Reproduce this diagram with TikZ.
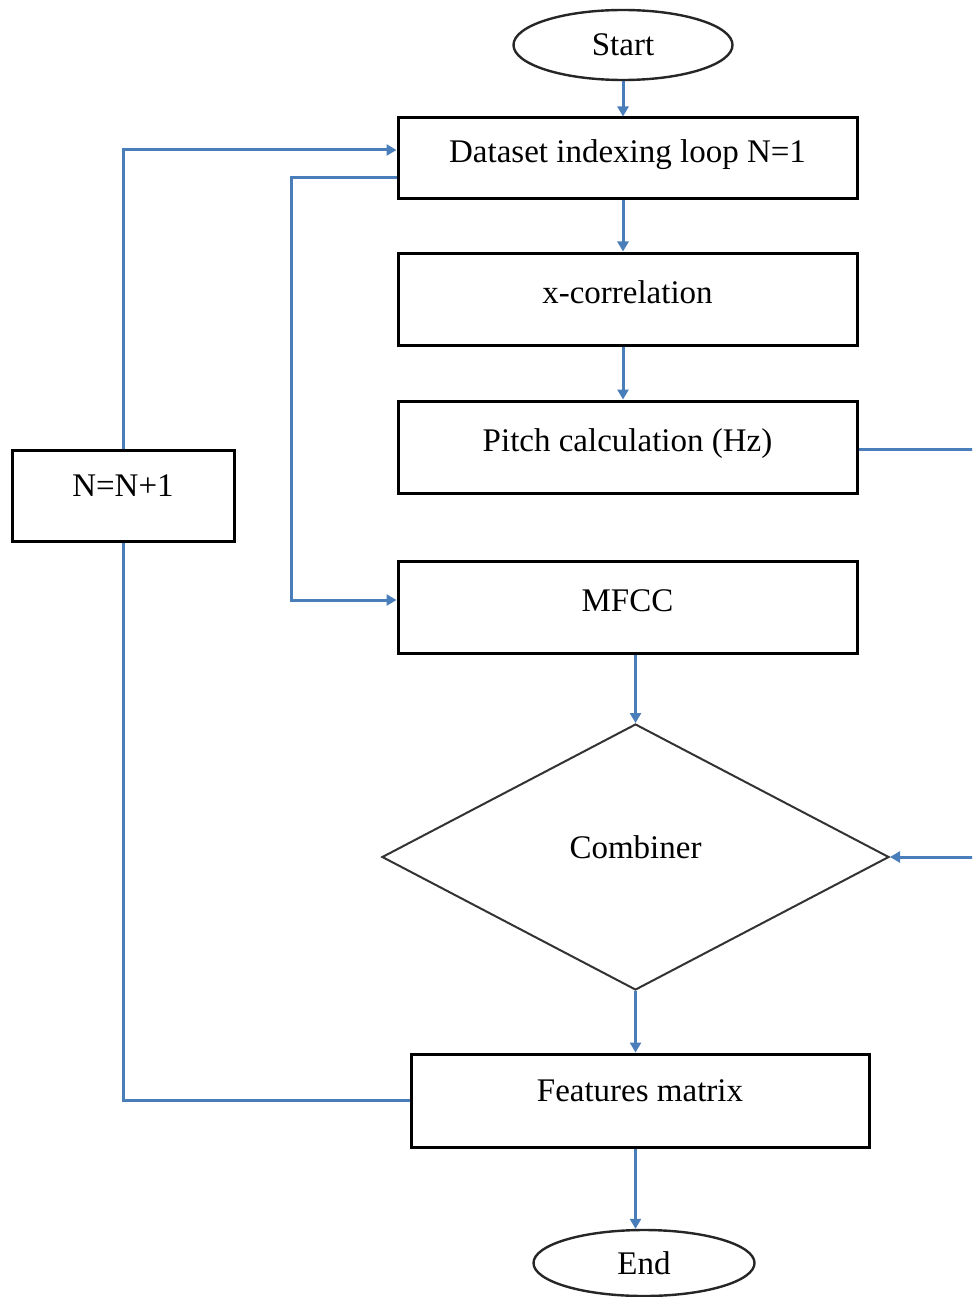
\documentclass[tikz,border=0pt]{standalone}
\usepackage{fontspec}
\setmainfont{Liberation Serif}
\usetikzlibrary{shapes.geometric,arrows.meta}
\definecolor{lnblue}{HTML}{4A7EBB}
\begin{document}
\begin{tikzpicture}[x=1pt,y=-1pt,
  font=\fontsize{33}{36}\selectfont,
  box/.style={draw=black,line width=3pt,rectangle,inner sep=0pt,text height=22pt,text depth=14pt},
  boxlow/.style={box,text depth=20pt},
  oval/.style={draw=black!85,line width=2.4pt,ellipse,inner sep=0pt},
  decide/.style={draw=black!80,line width=2pt,diamond,inner sep=0pt,text height=22pt,text depth=20pt},
  conn/.style={draw=lnblue,line width=3pt},
  arr/.style={conn,-{Triangle[length=10pt,width=11pt]}}]
\clip (0,0) rectangle (972,1297);
\fill[white] (0,0) rectangle (972,1297);

\node[oval,minimum width=219pt,minimum height=70pt] (start) at (623,45) {Start};
\node[box,minimum width=459pt,minimum height=81pt] (b1) at (627.5,158.5) {Dataset indexing loop N=1};
\node[box,minimum width=459pt,minimum height=92pt] (b2) at (627.5,299) {x-correlation};
\node[box,minimum width=459pt,minimum height=92pt] (b3) at (627.5,447) {Pitch calculation (Hz)};
\node[box,minimum width=459pt,minimum height=92pt] (b4) at (627.5,607) {MFCC};
\node[decide,minimum width=507pt,minimum height=266pt] (comb) at (635.5,857) {Combiner};
\node[boxlow,minimum width=458pt,minimum height=93pt] (b5) at (640,1100.5) {Features matrix};
\node[oval,minimum width=221pt,minimum height=66pt] (end) at (644,1263) {End};
\node[boxlow,minimum width=222pt,minimum height=91pt] (nb) at (123,495.5) {N=N+1};

\coordinate (rp) at (995,449);
\coordinate (rc) at (995,857);

\draw[arr] (start.south) -- (start.south |- b1.north);
\draw[arr] (b1.south -| start.south) -- (start.south |- b2.north);
\draw[arr] (b2.south -| start.south) -- (start.south |- b3.north);
\draw[arr] (b4.south -| comb.north) -- (comb.north);
\draw[arr] (comb.south) -- (comb.south |- b5.north);
\draw[arr] (b5.south -| comb.south) -- (comb.south |- end.north);
\draw[conn] (b3.east |- rp) -- (rp) -- (rc);
\draw[arr] (rc) -- (comb.east);
\draw[conn] (b5.west) -| (nb.south);
\draw[arr] (nb.north) |- ([yshift=8.5pt]b1.west);
\draw[arr] ([yshift=-19.5pt]b1.west) -- ++(-105,0) |- ([yshift=7pt]b4.west);
\end{tikzpicture}
\end{document}
